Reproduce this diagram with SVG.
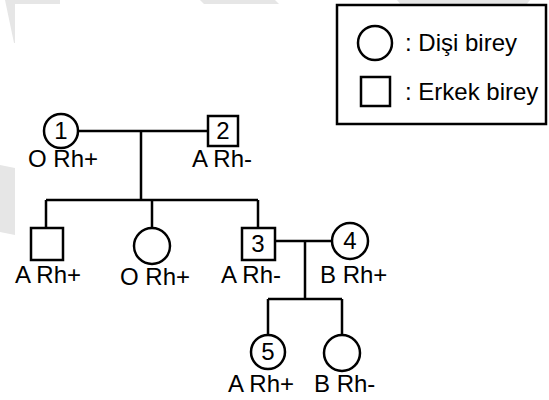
<svg xmlns="http://www.w3.org/2000/svg" width="549" height="400" viewBox="0 0 549 400">
<style>
.s{fill:none;stroke:#000;stroke-width:2.5}
.n{fill:#fff;stroke:#000;stroke-width:2.5}
text{font-family:"Liberation Sans",Arial,sans-serif;font-size:24px;fill:#000}
.c{text-anchor:middle}
.wm{fill:#e6e6e6}
</style>
<rect width="549" height="400" fill="#fff"/>
<g id="watermark">
<polygon class="wm" points="5,0 60,0 60,4 15,4 15,43 14,43"/>
<polygon class="wm" points="200,0 275,0 279,4 204,4"/>
<polygon class="wm" points="397,0 530,0 526,5 401,5"/>
<polygon class="wm" points="0,165 15,168 15,235 0,232"/>
</g>
<g id="legend">
<rect class="s" x="337" y="5" width="209" height="119"/>
<circle class="s" cx="375" cy="43" r="17"/>
<text x="405" y="51">: Dişi birey</text>
<rect class="s" x="361" y="77" width="29" height="29"/>
<text x="405" y="100">: Erkek birey</text>
</g>
<g id="connectors" class="s">
<path d="M79 131H208M141 131V200M46 200H258M46 200V228M152 200V228M258 200V228"/>
<path d="M275 241H333M305 241V299M268 299H342M268 299V335M342 299V335"/>
</g>
<g id="n1"><circle class="n" cx="61" cy="131" r="17"/><text class="c" x="61" y="139">1</text><text x="28" y="167">O Rh+</text></g>
<g id="n2"><rect class="n" x="208" y="116" width="30" height="30"/><text class="c" x="223" y="139">2</text><text x="192" y="167">A Rh-</text></g>
<g id="c1"><rect class="n" x="31" y="228" width="32" height="32"/><text x="15" y="283">A Rh+</text></g>
<g id="c2"><circle class="n" cx="152" cy="246" r="18"/><text x="120" y="285">O Rh+</text></g>
<g id="n3"><rect class="n" x="242" y="228" width="33" height="32"/><text class="c" x="258" y="252">3</text><text x="221" y="283">A Rh-</text></g>
<g id="n4"><circle class="n" cx="350" cy="241" r="18"/><text class="c" x="350" y="249">4</text><text x="320" y="283">B Rh+</text></g>
<g id="n5"><circle class="n" cx="268" cy="352" r="17"/><text class="c" x="268" y="360">5</text><text x="228" y="392">A Rh+</text></g>
<g id="c3"><circle class="n" cx="342" cy="353" r="18"/><text x="314" y="392">B Rh-</text></g>
</svg>
